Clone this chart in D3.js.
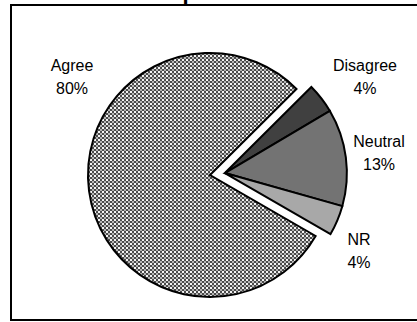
<!DOCTYPE html>
<html>
<head>
<meta charset="utf-8">
<script src="https://cdn.jsdelivr.net/npm/d3@7"></script>
<style>
  body { margin: 0; background: #fff; }
  svg { display: block; }
  text { font-family: Arial, "Liberation Sans", Helvetica, sans-serif; fill: #000; }
</style>
</head>
<body>
<svg id="chart" width="417" height="322"></svg>
<script>
// Survey response shares (percent)
const categories = ["Agree", "Disagree", "Neutral", "NR"];
const shares = [80, 4, 13, 4];
const valueLabels = ["80%", "4%", "13%", "4%"];
const titleText = "Overall Conceptions of Mission";

// Layout
const center = [210, 175];
const radius = 122;
const explode = 15;               // offset of the pulled-out minority slices
const startDeg = 120;             // angle where the first slice begins (clockwise from 12 o'clock)
const labelAnchors = [[72, 71], [365, 71], [379, 147], [359, 245]];
const lineGap = 22.5;

const fills = ["url(#checker)", "#404040", "#737373", "#a8a8a8"];

const svg = d3.select("#chart");

// Checker pattern for the majority slice
const defs = svg.append("defs");
const pat = defs.append("pattern")
  .attr("id", "checker")
  .attr("patternUnits", "userSpaceOnUse")
  .attr("width", 4).attr("height", 4);
pat.append("rect").attr("width", 4).attr("height", 4).attr("fill", "#4a4a4a");
pat.append("rect").attr("x", 0).attr("y", 0).attr("width", 2).attr("height", 2).attr("fill", "#f4f4f4");
pat.append("rect").attr("x", 2).attr("y", 2).attr("width", 2).attr("height", 2).attr("fill", "#b4b4b4");

// Title (sits above the frame, mostly outside the page)
svg.append("text")
  .attr("x", 199).attr("y", 0.3)
  .attr("text-anchor", "middle")
  .attr("font-size", 22)
  .attr("font-weight", "bold")
  .text(titleText);

// Chart frame
svg.append("rect")
  .attr("x", 11).attr("y", 5)
  .attr("width", 420).attr("height", 315)
  .attr("fill", "none")
  .attr("stroke", "#000")
  .attr("stroke-width", 2);

const a0 = startDeg * Math.PI / 180;
const pie = d3.pie().sort(null).startAngle(a0).endAngle(a0 + 2 * Math.PI);
const arcs = pie(shares);
const arc = d3.arc().innerRadius(0).outerRadius(radius);

// Shared pull-out direction for the minority slices
const minority = arcs.slice(1);
const midAngle = (d3.min(minority, d => d.startAngle) + d3.max(minority, d => d.endAngle)) / 2;
const dx = Math.sin(midAngle) * explode, dy = -Math.cos(midAngle) * explode;

const g = svg.append("g").attr("transform", `translate(${center[0]},${center[1]})`);
g.selectAll("path")
  .data(arcs)
  .join("path")
  .attr("transform", (d, i) => i === 0 ? null : `translate(${dx},${dy})`)
  .attr("d", arc)
  .attr("fill", (d, i) => fills[i])
  .attr("stroke", "#000")
  .attr("stroke-width", 2)
  .attr("stroke-linejoin", "miter");

// Category + value labels
const labels = svg.append("g").attr("font-size", 16).attr("text-anchor", "middle");
categories.forEach((c, i) => {
  const [x, y] = labelAnchors[i];
  labels.append("text").attr("x", x).attr("y", y).text(c);
  labels.append("text").attr("x", x).attr("y", y + lineGap).text(valueLabels[i]);
});
</script>
</body>
</html>
